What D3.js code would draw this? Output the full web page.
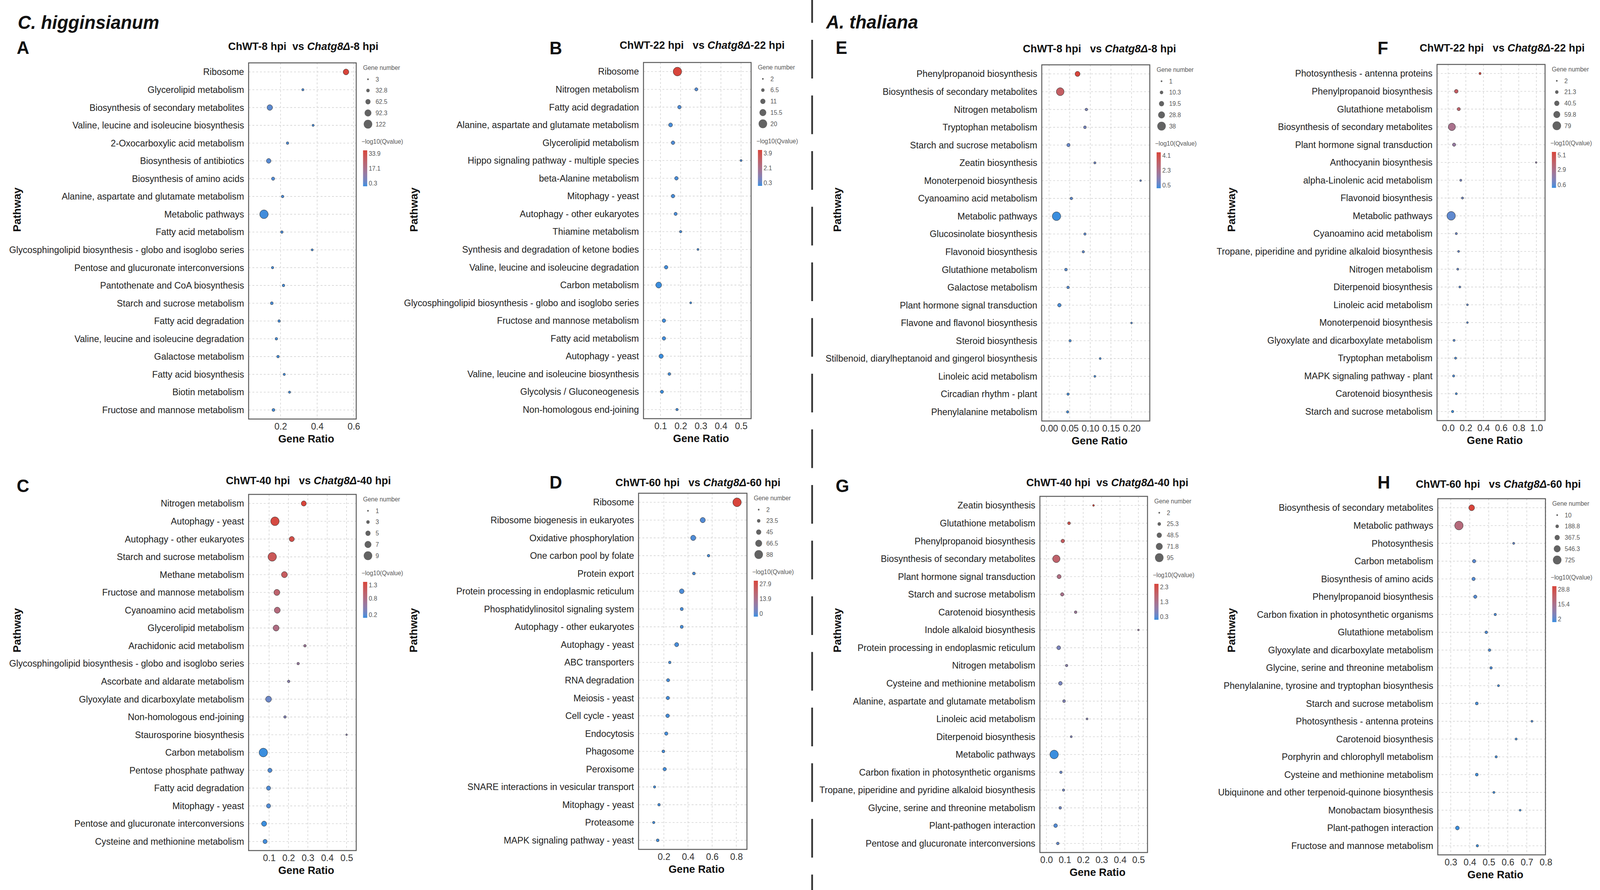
<!DOCTYPE html>
<html>
<head>
<meta charset="utf-8">
<script src="https://cdn.jsdelivr.net/npm/d3@7"></script>
<style>
  html, body { margin: 0; padding: 0; background: #fff; overflow: hidden; width: 100%; height: 100%; }
  svg { display: block; width: 100vw; height: 100vh; font-family: "Liberation Sans", Arial, sans-serif; }
</style>
</head>
<body>
<svg id="fig" viewBox="0 0 4222 2279" preserveAspectRatio="none"></svg>
<script>
'use strict';

// ---- panel A : ChWT-8 hpi vs Chatg8-8 hpi (C. higginsianum)
const pathA = ['Ribosome', 'Glycerolipid metabolism', 'Biosynthesis of secondary metabolites',
  'Valine, leucine and isoleucine biosynthesis', '2-Oxocarboxylic acid metabolism', 'Biosynthesis of antibiotics',
  'Biosynthesis of amino acids', 'Alanine, aspartate and glutamate metabolism', 'Metabolic pathways',
  'Fatty acid metabolism', 'Glycosphingolipid biosynthesis - globo and isoglobo series',
  'Pentose and glucuronate interconversions', 'Pantothenate and CoA biosynthesis', 'Starch and sucrose metabolism',
  'Fatty acid degradation', 'Valine, leucine and isoleucine degradation', 'Galactose metabolism',
  'Fatty acid biosynthesis', 'Biotin metabolism', 'Fructose and mannose metabolism'];
const ratioA = [0.558, 0.322, 0.141, 0.378, 0.238, 0.135, 0.159, 0.211, 0.109, 0.207, 0.373, 0.156, 0.216, 0.152, 0.192, 0.177, 0.186, 0.220, 0.249, 0.161];
const countA = [73, 14, 70, 12, 19, 55, 31, 19, 122, 19, 11, 16, 19, 24, 19, 19, 19, 14, 14, 24];
const qA = [33.9, 1.5, 3.0, 1.2, 1.8, 2.5, 2.0, 1.3, 0.8, 1.4, 0.9, 1.1, 1.0, 1.2, 1.1, 1.0, 0.9, 1.0, 0.8, 0.9];
const ticksA = [0.2, 0.4, 0.6];
const sizeKeyA = [3, 32.8, 62.5, 92.3, 122];
const colorKeyA = [33.9, 17.1, 0.3];

// ---- panel B : 22 hpi
const pathB = ['Ribosome', 'Nitrogen metabolism', 'Fatty acid degradation', 'Alanine, aspartate and glutamate metabolism',
  'Glycerolipid metabolism', 'Hippo signaling pathway - multiple species', 'beta-Alanine metabolism', 'Mitophagy - yeast',
  'Autophagy - other eukaryotes', 'Thiamine metabolism', 'Synthesis and degradation of ketone bodies',
  'Valine, leucine and isoleucine degradation', 'Carbon metabolism', 'Glycosphingolipid biosynthesis - globo and isoglobo series',
  'Fructose and mannose metabolism', 'Fatty acid metabolism', 'Autophagy - yeast', 'Valine, leucine and isoleucine biosynthesis',
  'Glycolysis / Gluconeogenesis', 'Non-homologous end-joining'];
const ratioB = [0.184, 0.278, 0.194, 0.150, 0.162, 0.500, 0.179, 0.162, 0.175, 0.200, 0.286, 0.128, 0.091, 0.250, 0.117, 0.117, 0.103, 0.144, 0.107, 0.182];
const countB = [20, 6, 7, 8, 7, 3, 7, 7, 6, 4, 3, 7, 13, 3, 7, 7, 9, 5, 6, 4];
const qB = [3.9, 0.5, 0.45, 0.4, 0.45, 0.45, 0.4, 0.4, 0.4, 0.4, 0.4, 0.35, 0.3, 0.35, 0.35, 0.35, 0.3, 0.35, 0.3, 0.35];
const ticksB = [0.1, 0.2, 0.3, 0.4, 0.5];
const sizeKeyB = [2, 6.5, 11, 15.5, 20];
const colorKeyB = [3.9, 2.1, 0.3];

// ---- panel C : 40 hpi
const pathC = ['Nitrogen metabolism', 'Autophagy - yeast', 'Autophagy - other eukaryotes', 'Starch and sucrose metabolism',
  'Methane metabolism', 'Fructose and mannose metabolism', 'Cyanoamino acid metabolism', 'Glycerolipid metabolism',
  'Arachidonic acid metabolism', 'Glycosphingolipid biosynthesis - globo and isoglobo series',
  'Ascorbate and aldarate metabolism', 'Glyoxylate and dicarboxylate metabolism', 'Non-homologous end-joining',
  'Staurosporine biosynthesis', 'Carbon metabolism', 'Pentose phosphate pathway', 'Fatty acid degradation',
  'Mitophagy - yeast', 'Pentose and glucuronate interconversions', 'Cysteine and methionine metabolism'];
const ratioC = [0.279, 0.130, 0.217, 0.116, 0.179, 0.140, 0.142, 0.136, 0.285, 0.250, 0.201, 0.097, 0.182, 0.500, 0.070, 0.104, 0.097, 0.097, 0.074, 0.079];
const countC = [5, 9, 5, 9, 6, 6, 6, 6, 2, 2, 2, 6, 2, 1, 9, 4, 4, 4, 5, 4];
const qC = [1.3, 1.25, 1.2, 1.1, 1.05, 0.95, 0.85, 0.8, 0.65, 0.6, 0.5, 0.35, 0.45, 0.5, 0.2, 0.25, 0.25, 0.25, 0.2, 0.22];
const ticksC = [0.1, 0.2, 0.3, 0.4, 0.5];
const sizeKeyC = [1, 3, 5, 7, 9];
const colorKeyC = [1.3, 0.8, 0.2];

// ---- panel D : 60 hpi
const pathD = ['Ribosome', 'Ribosome biogenesis in eukaryotes', 'Oxidative phosphorylation', 'One carbon pool by folate',
  'Protein export', 'Protein processing in endoplasmic reticulum', 'Phosphatidylinositol signaling system',
  'Autophagy - other eukaryotes', 'Autophagy - yeast', 'ABC transporters', 'RNA degradation', 'Meiosis - yeast',
  'Cell cycle - yeast', 'Endocytosis', 'Phagosome', 'Peroxisome', 'SNARE interactions in vesicular transport',
  'Mitophagy - yeast', 'Proteasome', 'MAPK signaling pathway - yeast'];
const ratioD = [0.806, 0.522, 0.443, 0.570, 0.449, 0.348, 0.348, 0.348, 0.306, 0.249, 0.235, 0.233, 0.231, 0.220, 0.196, 0.207, 0.123, 0.160, 0.116, 0.149];
const countD = [88, 46, 46, 14, 17, 40, 20, 20, 33, 14, 20, 24, 27, 24, 17, 24, 11, 14, 11, 17];
const qD = [27.9, 1.5, 1.2, 0.6, 0.8, 0.9, 0.6, 0.6, 0.7, 0.4, 0.5, 0.5, 0.5, 0.5, 0.4, 0.4, 0.3, 0.4, 0.3, 0.3];
const ticksD = [0.2, 0.4, 0.6, 0.8];
const sizeKeyD = [2, 23.5, 45, 66.5, 88];
const colorKeyD = [27.9, 13.9, 0];

// ---- panel E : A. thaliana 8 hpi
const pathE = ['Phenylpropanoid biosynthesis', 'Biosynthesis of secondary metabolites', 'Nitrogen metabolism',
  'Tryptophan metabolism', 'Starch and sucrose metabolism', 'Zeatin biosynthesis', 'Monoterpenoid biosynthesis',
  'Cyanoamino acid metabolism', 'Metabolic pathways', 'Glucosinolate biosynthesis', 'Flavonoid biosynthesis',
  'Glutathione metabolism', 'Galactose metabolism', 'Plant hormone signal transduction',
  'Flavone and flavonol biosynthesis', 'Steroid biosynthesis', 'Stilbenoid, diarylheptanoid and gingerol biosynthesis',
  'Linoleic acid metabolism', 'Circadian rhythm - plant', 'Phenylalanine metabolism'];
const ratioE = [0.069, 0.027, 0.0905, 0.087, 0.047, 0.111, 0.222, 0.054, 0.018, 0.087, 0.083, 0.041, 0.046, 0.025, 0.200, 0.051, 0.124, 0.111, 0.046, 0.045];
const countE = [19, 34, 6, 7, 10, 4, 2, 6, 38, 5, 5, 7, 6, 11, 2, 5, 3, 3, 5, 5];
const qE = [4.1, 3.2, 1.2, 1.1, 0.9, 1.0, 0.9, 0.8, 0.5, 0.8, 0.8, 0.7, 0.7, 0.6, 0.7, 0.6, 0.6, 0.6, 0.55, 0.55];
const ticksE = [0, 0.05, 0.10, 0.15, 0.20];
const sizeKeyE = [1, 10.3, 19.5, 28.8, 38];
const colorKeyE = [4.1, 2.3, 0.5];

// ---- panel F : 22 hpi
const pathF = ['Photosynthesis - antenna proteins', 'Phenylpropanoid biosynthesis', 'Glutathione metabolism',
  'Biosynthesis of secondary metabolites', 'Plant hormone signal transduction', 'Anthocyanin biosynthesis',
  'alpha-Linolenic acid metabolism', 'Flavonoid biosynthesis', 'Metabolic pathways', 'Cyanoamino acid metabolism',
  'Tropane, piperidine and pyridine alkaloid biosynthesis', 'Nitrogen metabolism', 'Diterpenoid biosynthesis',
  'Linoleic acid metabolism', 'Monoterpenoid biosynthesis', 'Glyoxylate and dicarboxylate metabolism',
  'Tryptophan metabolism', 'MAPK signaling pathway - plant', 'Carotenoid biosynthesis', 'Starch and sucrose metabolism'];
const ratioF = [0.361, 0.092, 0.120, 0.042, 0.067, 0.997, 0.143, 0.162, 0.034, 0.092, 0.118, 0.109, 0.132, 0.218, 0.218, 0.067, 0.084, 0.062, 0.092, 0.050];
const countF = [8, 25, 18, 65, 20, 2, 8, 8, 79, 8, 6, 7, 6, 5, 4, 8, 8, 9, 7, 10];
const qF = [5.1, 4.0, 3.7, 2.8, 2.2, 2.0, 1.4, 1.3, 1.0, 1.2, 1.1, 1.1, 1.0, 1.0, 0.9, 0.9, 0.8, 0.8, 0.7, 0.6];
const ticksF = [0, 0.2, 0.4, 0.6, 0.8, 1.0];
const sizeKeyF = [2, 21.3, 40.5, 59.8, 79];
const colorKeyF = [5.1, 2.9, 0.6];

// ---- panel G : 40 hpi
const pathG = ['Zeatin biosynthesis', 'Glutathione metabolism', 'Phenylpropanoid biosynthesis',
  'Biosynthesis of secondary metabolites', 'Plant hormone signal transduction', 'Starch and sucrose metabolism',
  'Carotenoid biosynthesis', 'Indole alkaloid biosynthesis', 'Protein processing in endoplasmic reticulum',
  'Nitrogen metabolism', 'Cysteine and methionine metabolism', 'Alanine, aspartate and glutamate metabolism',
  'Linoleic acid metabolism', 'Diterpenoid biosynthesis', 'Metabolic pathways',
  'Carbon fixation in photosynthetic organisms', 'Tropane, piperidine and pyridine alkaloid biosynthesis',
  'Glycine, serine and threonine metabolism', 'Plant-pathogen interaction', 'Pentose and glucuronate interconversions'];
const ratioG = [0.256, 0.123, 0.089, 0.054, 0.069, 0.086, 0.159, 0.500, 0.067, 0.110, 0.076, 0.096, 0.221, 0.135, 0.042, 0.079, 0.093, 0.075, 0.050, 0.062];
const countG = [4, 18, 28, 80, 35, 25, 15, 3, 32, 12, 30, 18, 6, 8, 95, 14, 12, 16, 30, 16];
const qG = [2.3, 2.1, 1.85, 1.7, 1.4, 1.3, 1.1, 1.0, 0.7, 0.85, 0.65, 0.75, 0.8, 0.75, 0.3, 0.55, 0.6, 0.6, 0.4, 0.5];
const ticksG = [0, 0.1, 0.2, 0.3, 0.4, 0.5];
const sizeKeyG = [2, 25.3, 48.5, 71.8, 95];
const colorKeyG = [2.3, 1.3, 0.3];

// ---- panel H : 60 hpi
const pathH = ['Biosynthesis of secondary metabolites', 'Metabolic pathways', 'Photosynthesis', 'Carbon metabolism',
  'Biosynthesis of amino acids', 'Phenylpropanoid biosynthesis', 'Carbon fixation in photosynthetic organisms',
  'Glutathione metabolism', 'Glyoxylate and dicarboxylate metabolism', 'Glycine, serine and threonine metabolism',
  'Phenylalanine, tyrosine and tryptophan biosynthesis', 'Starch and sucrose metabolism',
  'Photosynthesis - antenna proteins', 'Carotenoid biosynthesis', 'Porphyrin and chlorophyll metabolism',
  'Cysteine and methionine metabolism', 'Ubiquinone and other terpenoid-quinone biosynthesis',
  'Monobactam biosynthesis', 'Plant-pathogen interaction', 'Fructose and mannose metabolism'];
const ratioH = [0.410, 0.343, 0.631, 0.423, 0.420, 0.429, 0.534, 0.487, 0.504, 0.512, 0.551, 0.437, 0.727, 0.644, 0.539, 0.437, 0.527, 0.665, 0.335, 0.440];
const countH = [440, 725, 60, 190, 190, 180, 90, 120, 110, 100, 60, 140, 50, 60, 80, 140, 60, 40, 240, 90];
const qH = [28.8, 18, 5, 4, 3.5, 3.5, 3, 3, 2.8, 2.8, 2.5, 2.5, 3, 2.5, 2.5, 2.2, 2.2, 2.2, 2, 2];
const ticksH = [0.3, 0.4, 0.5, 0.6, 0.7, 0.8];
const sizeKeyH = [10, 188.8, 367.5, 546.3, 725];
const colorKeyH = [28.8, 15.4, 2];

const titleTimes = ['8', '22', '40', '60'];

// layout of the eight ggplot-like panels
const panels = [
  { id: 'A', path: pathA, ratio: ratioA, count: countA, q: qA, ticks: ticksA, sizes: sizeKeyA, colors: colorKeyA, fmt: '.1f',
    time: titleTimes[0], gap: 2, x0: 656, x1: 940, top: 161, dom: [0.025, 0.614], tx: 602, ty: 128, lx: 44, ly: 138, px: 55 },
  { id: 'B', path: pathB, ratio: ratioB, count: countB, q: qB, ticks: ticksB, sizes: sizeKeyB, colors: colorKeyB, fmt: '.1f',
    time: titleTimes[1], gap: 3, x0: 1698, x1: 1982, top: 160, dom: [0.0155, 0.55], tx: 1635, ty: 125, lx: 1450, ly: 139, px: 1102 },
  { id: 'C', path: pathC, ratio: ratioC, count: countC, q: qC, ticks: ticksC, sizes: sizeKeyC, colors: colorKeyC, fmt: '.1f',
    time: titleTimes[2], gap: 3, x0: 656, x1: 940, top: 1266, dom: [-0.006, 0.55], tx: 596, ty: 1240, lx: 44, ly: 1260, px: 55 },
  { id: 'D', path: pathD, ratio: ratioD, count: countD, q: qD, ticks: ticksD, sizes: sizeKeyD, colors: colorKeyD, fmt: '.1f',
    time: titleTimes[3], gap: 3, x0: 1685, x1: 1971, top: 1263, dom: [-0.0095, 0.888], tx: 1624, ty: 1245, lx: 1450, ly: 1251, px: 1101 },
  { id: 'E', path: pathE, ratio: ratioE, count: countE, q: qE, ticks: ticksE, sizes: sizeKeyE, colors: colorKeyE, fmt: '.2f',
    time: titleTimes[0], gap: 3, x0: 2749, x1: 3034, top: 166, dom: [-0.0177, 0.2443], tx: 2699, ty: 134, lx: 2205, ly: 138, px: 2219 },
  { id: 'F', path: pathF, ratio: ratioF, count: countF, q: qF, ticks: ticksF, sizes: sizeKeyF, colors: colorKeyF, fmt: '.1f',
    time: titleTimes[1], gap: 3, x0: 3792, x1: 4077, top: 165, dom: [-0.126, 1.098], tx: 3746, ty: 132, lx: 3635, ly: 139, px: 3259 },
  { id: 'G', path: pathG, ratio: ratioG, count: countG, q: qG, ticks: ticksG, sizes: sizeKeyG, colors: colorKeyG, fmt: '.1f',
    time: titleTimes[2], gap: 2, x0: 2744, x1: 3028, top: 1271, dom: [-0.0354, 0.5496], tx: 2708, ty: 1245, lx: 2205, ly: 1260, px: 2219 },
  { id: 'H', path: pathH, ratio: ratioH, count: countH, q: qH, ticks: ticksH, sizes: sizeKeyH, colors: colorKeyH, fmt: '.1f',
    time: titleTimes[3], gap: 3, x0: 3794, x1: 4078, top: 1277, dom: [0.232, 0.798], tx: 3736, ty: 1249, lx: 3635, ly: 1251, px: 3259 }
];

const svg = d3.select('#fig');
const defs = svg.append('defs');
const lowColor = '#3b8ede';
const highColor = '#d8453b';
const boxHeight = 912;

svg.append('rect').attr('width', 4222).attr('height', 2279).attr('fill', '#fff');

// species headers and the dashed divider
svg.append('text').attr('x', 47).attr('y', 74)
  .attr('font-size', 48).attr('font-weight', 'bold').attr('font-style', 'italic').attr('fill', '#111')
  .text('C. higginsianum');
svg.append('text').attr('x', 2180).attr('y', 73)
  .attr('font-size', 48).attr('font-weight', 'bold').attr('font-style', 'italic').attr('fill', '#111')
  .text('A. thaliana');
svg.append('line')
  .attr('x1', 2143).attr('x2', 2143).attr('y1', -40.5).attr('y2', 2279)
  .attr('stroke', '#333').attr('stroke-width', 4.6).attr('stroke-dasharray', '99 43.5');

function drawPanel(p) {
  const g = svg.append('g').attr('class', 'panel-' + p.id);
  const bottom = p.top + boxHeight;
  const pathY = p.top < 1000 ? 537 : 1614;

  const x = d3.scaleLinear().domain(p.dom).range([p.x0, p.x1]);
  const y = d3.scalePoint().domain(p.path).range([p.top, bottom]).padding(0.51);
  const r = d3.scaleLinear().domain(d3.extent(p.sizes)).range([2.2, 11.2]);
  const col = d3.scaleLinear().domain(d3.extent(p.colors)).range([lowColor, highColor])
    .interpolate(d3.interpolateLab);

  // dashed grid
  g.append('g').selectAll('line').data(p.path).join('line')
    .attr('x1', p.x0).attr('x2', p.x1)
    .attr('y1', d => y(d)).attr('y2', d => y(d))
    .attr('stroke', '#d4d4d4').attr('stroke-width', 1.6).attr('stroke-dasharray', '5 5');
  g.append('g').selectAll('line').data(p.ticks).join('line')
    .attr('x1', d => x(d)).attr('x2', d => x(d))
    .attr('y1', p.top).attr('y2', bottom)
    .attr('stroke', '#d4d4d4').attr('stroke-width', 1.6).attr('stroke-dasharray', '5 5');

  // dots
  const rows = p.path.map((name, i) => ({ name, ratio: p.ratio[i], count: p.count[i], q: p.q[i] }));
  g.append('g').selectAll('circle').data(rows).join('circle')
    .attr('cx', d => x(d.ratio)).attr('cy', d => y(d.name)).attr('r', d => r(d.count))
    .attr('fill', d => col(d.q)).attr('stroke', '#333').attr('stroke-width', 1);

  // panel border
  g.append('rect').attr('x', p.x0).attr('y', p.top)
    .attr('width', p.x1 - p.x0).attr('height', boxHeight)
    .attr('fill', 'none').attr('stroke', '#5a5a5a').attr('stroke-width', 2.5);

  // axes
  const xAxis = g.append('g').attr('transform', `translate(0,${bottom})`)
    .call(d3.axisBottom(x).tickValues(p.ticks).tickFormat(d3.format(p.fmt)).tickSize(0).tickPadding(10));
  xAxis.attr('font-size', null).attr('font-family', null);
  xAxis.select('.domain').remove();
  xAxis.selectAll('text').attr('font-size', 24).attr('fill', '#333');

  const yAxis = g.append('g').attr('transform', `translate(${p.x0},0)`)
    .call(d3.axisLeft(y).tickSize(0).tickPadding(12));
  yAxis.attr('font-size', null).attr('font-family', null);
  yAxis.select('.domain').remove();
  yAxis.selectAll('text').attr('font-size', 24).attr('fill', '#222');

  // titles
  const t = g.append('text').attr('x', p.tx).attr('y', p.ty)
    .attr('font-size', 28).attr('font-weight', 'bold').attr('fill', '#111')
    .style('white-space', 'pre');
  t.append('tspan').text(`ChWT-${p.time} hpi` + ' '.repeat(p.gap) + 'vs ');
  t.append('tspan').attr('font-style', 'italic').text('Chatg8\u0394');
  t.append('tspan').text(`-${p.time} hpi`);

  g.append('text').attr('x', p.lx).attr('y', p.ly)
    .attr('font-size', 46).attr('font-weight', 'bold').attr('fill', '#111').text(p.id);

  g.append('text').attr('x', (p.x0 + p.x1) / 2 + 10).attr('y', bottom + 60)
    .attr('text-anchor', 'middle').attr('font-size', 28).attr('font-weight', 'bold').attr('fill', '#111')
    .text('Gene Ratio');

  g.append('text').attr('transform', `translate(${p.px},${pathY}) rotate(-90)`)
    .attr('text-anchor', 'middle').attr('font-size', 28).attr('font-weight', 'bold').attr('fill', '#111')
    .text('Pathway');

  // legends
  const lx = p.x1 + 18;
  const leg = g.append('g').attr('fill', '#595959').attr('font-size', 16);
  leg.append('text').attr('x', lx).attr('y', p.top + 12).attr('dy', '0.35em').text('Gene number');
  const sizeRow = d3.scaleLinear().domain([0, 4]).range([p.top + 42, p.top + 157]);
  leg.selectAll('circle.key').data(p.sizes).join('circle').attr('class', 'key')
    .attr('cx', lx + 13).attr('cy', (d, i) => sizeRow(i)).attr('r', d => r(d))
    .attr('fill', '#636363');
  leg.selectAll('text.sizelab').data(p.sizes).join('text').attr('class', 'sizelab')
    .attr('x', lx + 33).attr('y', (d, i) => sizeRow(i)).attr('dy', '0.35em').text(d => String(d));

  leg.append('text').attr('x', lx - 4).attr('y', p.top + 201).attr('dy', '0.35em').text('\u2212log10(Qvalue)');
  const ext = d3.extent(p.colors);
  const grad = defs.append('linearGradient').attr('id', 'grad' + p.id)
    .attr('x1', 0).attr('y1', 1).attr('x2', 0).attr('y2', 0);
  d3.range(0, 1.0001, 0.1).forEach(s => {
    grad.append('stop').attr('offset', s).attr('stop-color', col(ext[0] + s * (ext[1] - ext[0])));
  });
  const barTop = p.top + 224, barBottom = p.top + 316;
  leg.append('rect').attr('x', lx).attr('y', barTop).attr('width', 11).attr('height', barBottom - barTop)
    .attr('fill', `url(#grad${p.id})`);
  const barY = d3.scaleLinear().domain(ext).range([barBottom - 8, barTop + 8]);
  leg.selectAll('text.collab').data(p.colors).join('text').attr('class', 'collab')
    .attr('x', lx + 15).attr('y', d => barY(d)).attr('dy', '0.35em').text(d => String(d));
}

panels.forEach(drawPanel);
</script>
</body>
</html>
